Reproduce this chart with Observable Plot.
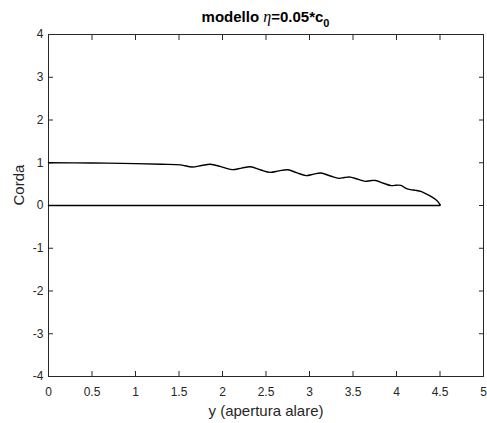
<!DOCTYPE html>
<html>
<head>
<meta charset="utf-8">
<script src="https://cdn.jsdelivr.net/npm/d3@7"></script>
<script src="https://cdn.jsdelivr.net/npm/@observablehq/plot@0.6"></script>
<style>
  body { margin: 0; background: white; }
  #wrap { position: relative; width: 487px; height: 423px; background: white; }
  #title { position: absolute; left: 48px; right: 4px; top: 8px; text-align: center;
           font-family: "Liberation Sans", Arial, sans-serif; font-weight: bold; font-size: 15px; color: #000; line-height: 17px; }
  #title i { font-family: "Liberation Serif", serif; font-weight: normal; font-size: 16px; }
  #title sub { font-size: 11px; vertical-align: -5px; line-height: 0; }
</style>
</head>
<body>
<div id="wrap">
  <div id="chart"></div>
  <div id="title">modello <i>η</i>=0.05*c<sub>0</sub></div>
</div>
<script>
// Upper edge of the wing planform (span y, chord)
const spanX = [0, 0.5, 1.0, 1.3, 1.52, 1.65, 1.76, 1.86, 1.98, 2.11, 2.22, 2.32, 2.44, 2.55, 2.65, 2.75, 2.85, 2.96, 3.05, 3.13, 3.24, 3.34, 3.40, 3.47, 3.56, 3.64, 3.70, 3.76, 3.85, 3.94, 4.00, 4.05, 4.11, 4.16, 4.22, 4.28, 4.35, 4.40, 4.45, 4.48, 4.50];
const chordY = [1.00, 0.995, 0.98, 0.965, 0.95, 0.90, 0.935, 0.965, 0.91, 0.84, 0.875, 0.905, 0.83, 0.775, 0.81, 0.835, 0.77, 0.70, 0.735, 0.76, 0.69, 0.635, 0.655, 0.665, 0.61, 0.565, 0.58, 0.585, 0.52, 0.465, 0.475, 0.47, 0.40, 0.37, 0.355, 0.33, 0.26, 0.21, 0.14, 0.08, 0.02];
// Lower edge (root chord line)
const baseX = [4.50, 4.50, 0];
const baseY = [0.02, 0, 0];

const xTicks = [0, 0.5, 1, 1.5, 2, 2.5, 3, 3.5, 4, 4.5, 5];
const xTickLabels = ["0", "0.5", "1", "1.5", "2", "2.5", "3", "3.5", "4", "4.5", "5"];
const yTicks = [-4, -3, -2, -1, 0, 1, 2, 3, 4];
const yTickLabels = ["-4", "-3", "-2", "-1", "0", "1", "2", "3", "4"];
const xLabel = "y (apertura alare)";
const yLabel = "Corda";

const upper = spanX.map((x, i) => ({x, y: chordY[i]}));
const lower = baseX.map((x, i) => ({x, y: baseY[i]}));

const axisColor = "#262626";
const chart = Plot.plot({
  width: 487,
  height: 423,
  marginTop: 34,
  marginRight: 4,
  marginBottom: 47,
  marginLeft: 48,
  x: {domain: [0, 5]},
  y: {domain: [-4, 4]},
  style: {fontFamily: "'Liberation Sans', Arial, sans-serif", fontSize: "12px", color: axisColor, background: "white"},
  marks: [
    Plot.axisX({ticks: xTicks, tickSize: 0, tickPadding: 11, tickFormat: (d, i) => xTickLabels[i], label: null}),
    Plot.axisX({ticks: xTicks, tickSize: -5, tickFormat: () => "", label: null, stroke: axisColor}),
    Plot.axisX({anchor: "top", ticks: xTicks, tickSize: -5, tickFormat: () => "", label: null, stroke: axisColor}),
    Plot.axisY({ticks: yTicks, tickSize: 0, tickPadding: 5, tickFormat: (d, i) => yTickLabels[i], label: null}),
    Plot.axisY({ticks: yTicks, tickSize: -5, tickFormat: () => "", label: null, stroke: axisColor}),
    Plot.axisY({anchor: "right", ticks: yTicks, tickSize: -5, tickFormat: () => "", label: null, stroke: axisColor}),
    Plot.frame({stroke: axisColor}),
    Plot.line(upper, {x: "x", y: "y", curve: "catmull-rom", stroke: "black", strokeWidth: 1.4}),
    Plot.line(lower, {x: "x", y: "y", stroke: "black", strokeWidth: 1.4}),
    Plot.text([xLabel], {text: d => d, frameAnchor: "bottom", dy: 35, lineAnchor: "middle", fontSize: 15, fill: axisColor}),
    Plot.text([yLabel], {text: d => d, frameAnchor: "left", dx: -29, rotate: -90, fontSize: 15, fill: axisColor})
  ]
});
document.getElementById("chart").appendChild(chart);
</script>
</body>
</html>
